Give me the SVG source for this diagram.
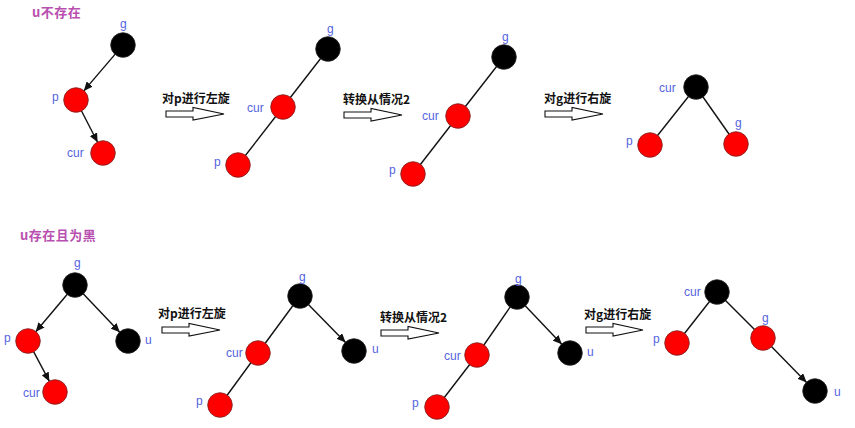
<svg xmlns="http://www.w3.org/2000/svg" width="855" height="428" viewBox="0 0 855 428">
<style>
.red{fill:#ff0000;stroke:#7a2020;stroke-width:0.8}
.blk{fill:#000;stroke:#222;stroke-width:0.8}
.lbl{font-family:"Liberation Sans",Arial,sans-serif;font-size:12px;fill:#5463e0}
.ttl{font-family:"Noto Sans CJK SC",sans-serif;font-size:13px;fill:#b84fb0;font-weight:bold;letter-spacing:0.5px}
.op{font-family:"Noto Sans CJK SC",sans-serif;font-size:12px;fill:#111;font-weight:bold}
.edge{stroke:#111;stroke-width:1.4;fill:none}
.arw{marker-end:url(#ah)}
.big{fill:#fff;stroke:#111;stroke-width:1.1}
</style>
<defs>
<marker id="ah" markerUnits="userSpaceOnUse" markerWidth="10" markerHeight="8" refX="9" refY="4" orient="auto">
<path d="M0,0 L9,4 L0,8 z" fill="#111"/>
</marker>
</defs>
<rect width="855" height="428" fill="#fff"/>
<text class="ttl" x="32" y="17">u不存在</text>
<text class="ttl" x="20" y="240">u存在且为黑</text>

<g id="connectors">
<line class="edge arw" x1="115.2" y1="54.1" x2="83.8" y2="90.9"/>
<line class="edge arw" x1="81.4" y1="110.7" x2="97.6" y2="142.3"/>
<line class="edge" x1="328" y1="49" x2="283" y2="107"/>
<line class="edge" x1="283" y1="107" x2="238" y2="165"/>
<line class="edge" x1="504" y1="57" x2="458" y2="116"/>
<line class="edge" x1="458" y1="116" x2="413" y2="174"/>
<line class="edge" x1="696" y1="87" x2="650" y2="145"/>
<line class="edge" x1="696" y1="87" x2="736" y2="144"/>
<line class="edge arw" x1="67.3" y1="294.2" x2="35.7" y2="331.8"/>
<line class="edge arw" x1="83.2" y1="293.7" x2="119.8" y2="332.3"/>
<line class="edge arw" x1="33.6" y1="351.6" x2="49.4" y2="381.4"/>
<line class="edge" x1="300" y1="296" x2="258" y2="353"/>
<line class="edge" x1="258" y1="353" x2="220" y2="405"/>
<line class="edge arw" x1="308.4" y1="304.6" x2="345.6" y2="342.4"/>
<line class="edge" x1="517" y1="297" x2="477" y2="355"/>
<line class="edge" x1="477" y1="355" x2="437" y2="407"/>
<line class="edge arw" x1="525.2" y1="305.7" x2="561.8" y2="344.3"/>
<line class="edge" x1="717" y1="292" x2="677" y2="343"/>
<line class="edge" x1="717" y1="292" x2="763" y2="338"/>
<line class="edge arw" x1="771.4" y1="346.6" x2="806.6" y2="382.4"/>
</g>

<g id="op1"><text class="op" x="162" y="103">对p进行左旋</text><polygon class="big" points="166,111 193,111 193,107.5 224,114 193,120 193,117 166,117"/></g>
<g id="op2"><text class="op" x="343" y="104">转换从情况2</text><polygon class="big" points="344,112 371,112 371,108.5 402,115 371,121 371,118 344,118"/></g>
<g id="op3"><text class="op" x="544" y="103">对g进行右旋</text><polygon class="big" points="545,111 572,111 572,107.5 603,114 572,120 572,117 545,117"/></g>
<g id="op4"><text class="op" x="158" y="318">对p进行左旋</text><polygon class="big" points="162,327 189,327 189,323.5 220,330 189,336 189,333 162,333"/></g>
<g id="op5"><text class="op" x="380" y="322">转换从情况2</text><polygon class="big" points="381,330 408,330 408,326.5 439,333 408,339 408,336 381,336"/></g>
<g id="op6"><text class="op" x="584" y="319">对g进行右旋</text><polygon class="big" points="586,327 613,327 613,323.5 643,330 613,336 613,333 586,333"/></g>

<g id="t1-g"><circle class="blk" cx="123" cy="45" r="12.3"/><text class="lbl" x="120" y="28">g</text></g>
<g id="t1-p"><circle class="red" cx="76" cy="100" r="12.3"/><text class="lbl" x="52" y="101">p</text></g>
<g id="t1-cur"><circle class="red" cx="103" cy="153" r="12.3"/><text class="lbl" x="67" y="157">cur</text></g>

<g id="t2-g"><circle class="blk" cx="328" cy="49" r="12.3"/><text class="lbl" x="327" y="33">g</text></g>
<g id="t2-cur"><circle class="red" cx="283" cy="107" r="12.3"/><text class="lbl" x="247" y="112">cur</text></g>
<g id="t2-p"><circle class="red" cx="238" cy="165" r="12.3"/><text class="lbl" x="214" y="166">p</text></g>

<g id="t3-g"><circle class="blk" cx="504" cy="57" r="12.3"/><text class="lbl" x="502" y="41">g</text></g>
<g id="t3-cur"><circle class="red" cx="458" cy="116" r="12.3"/><text class="lbl" x="422" y="120">cur</text></g>
<g id="t3-p"><circle class="red" cx="413" cy="174" r="12.3"/><text class="lbl" x="389" y="174">p</text></g>

<g id="t4-cur"><circle class="blk" cx="696" cy="87" r="12.3"/><text class="lbl" x="659" y="92">cur</text></g>
<g id="t4-p"><circle class="red" cx="650" cy="145" r="12.3"/><text class="lbl" x="626" y="145">p</text></g>
<g id="t4-g"><circle class="red" cx="736" cy="144" r="12.3"/><text class="lbl" x="735" y="127">g</text></g>

<g id="t5-g"><circle class="blk" cx="75" cy="285" r="12.3"/><text class="lbl" x="74" y="267">g</text></g>
<g id="t5-p"><circle class="red" cx="28" cy="341" r="12.3"/><text class="lbl" x="4" y="342">p</text></g>
<g id="t5-u"><circle class="blk" cx="128" cy="341" r="12.3"/><text class="lbl" x="145" y="344">u</text></g>
<g id="t5-cur"><circle class="red" cx="55" cy="392" r="12.3"/><text class="lbl" x="23" y="397">cur</text></g>

<g id="t6-g"><circle class="blk" cx="300" cy="296" r="12.3"/><text class="lbl" x="299" y="281">g</text></g>
<g id="t6-cur"><circle class="red" cx="258" cy="353" r="12.3"/><text class="lbl" x="226" y="357">cur</text></g>
<g id="t6-p"><circle class="red" cx="220" cy="405" r="12.3"/><text class="lbl" x="196" y="405">p</text></g>
<g id="t6-u"><circle class="blk" cx="354" cy="351" r="12.3"/><text class="lbl" x="372" y="353">u</text></g>

<g id="t7-g"><circle class="blk" cx="517" cy="297" r="12.3"/><text class="lbl" x="515" y="283">g</text></g>
<g id="t7-cur"><circle class="red" cx="477" cy="355" r="12.3"/><text class="lbl" x="444" y="360">cur</text></g>
<g id="t7-p"><circle class="red" cx="437" cy="407" r="12.3"/><text class="lbl" x="412" y="407">p</text></g>
<g id="t7-u"><circle class="blk" cx="570" cy="353" r="12.3"/><text class="lbl" x="587" y="356">u</text></g>

<g id="t8-cur"><circle class="blk" cx="717" cy="292" r="12.3"/><text class="lbl" x="684" y="296">cur</text></g>
<g id="t8-p"><circle class="red" cx="677" cy="343" r="12.3"/><text class="lbl" x="653" y="343">p</text></g>
<g id="t8-g"><circle class="red" cx="763" cy="338" r="12.3"/><text class="lbl" x="762" y="322">g</text></g>
<g id="t8-u"><circle class="blk" cx="815" cy="391" r="12.3"/><text class="lbl" x="834" y="396">u</text></g>
</svg>
